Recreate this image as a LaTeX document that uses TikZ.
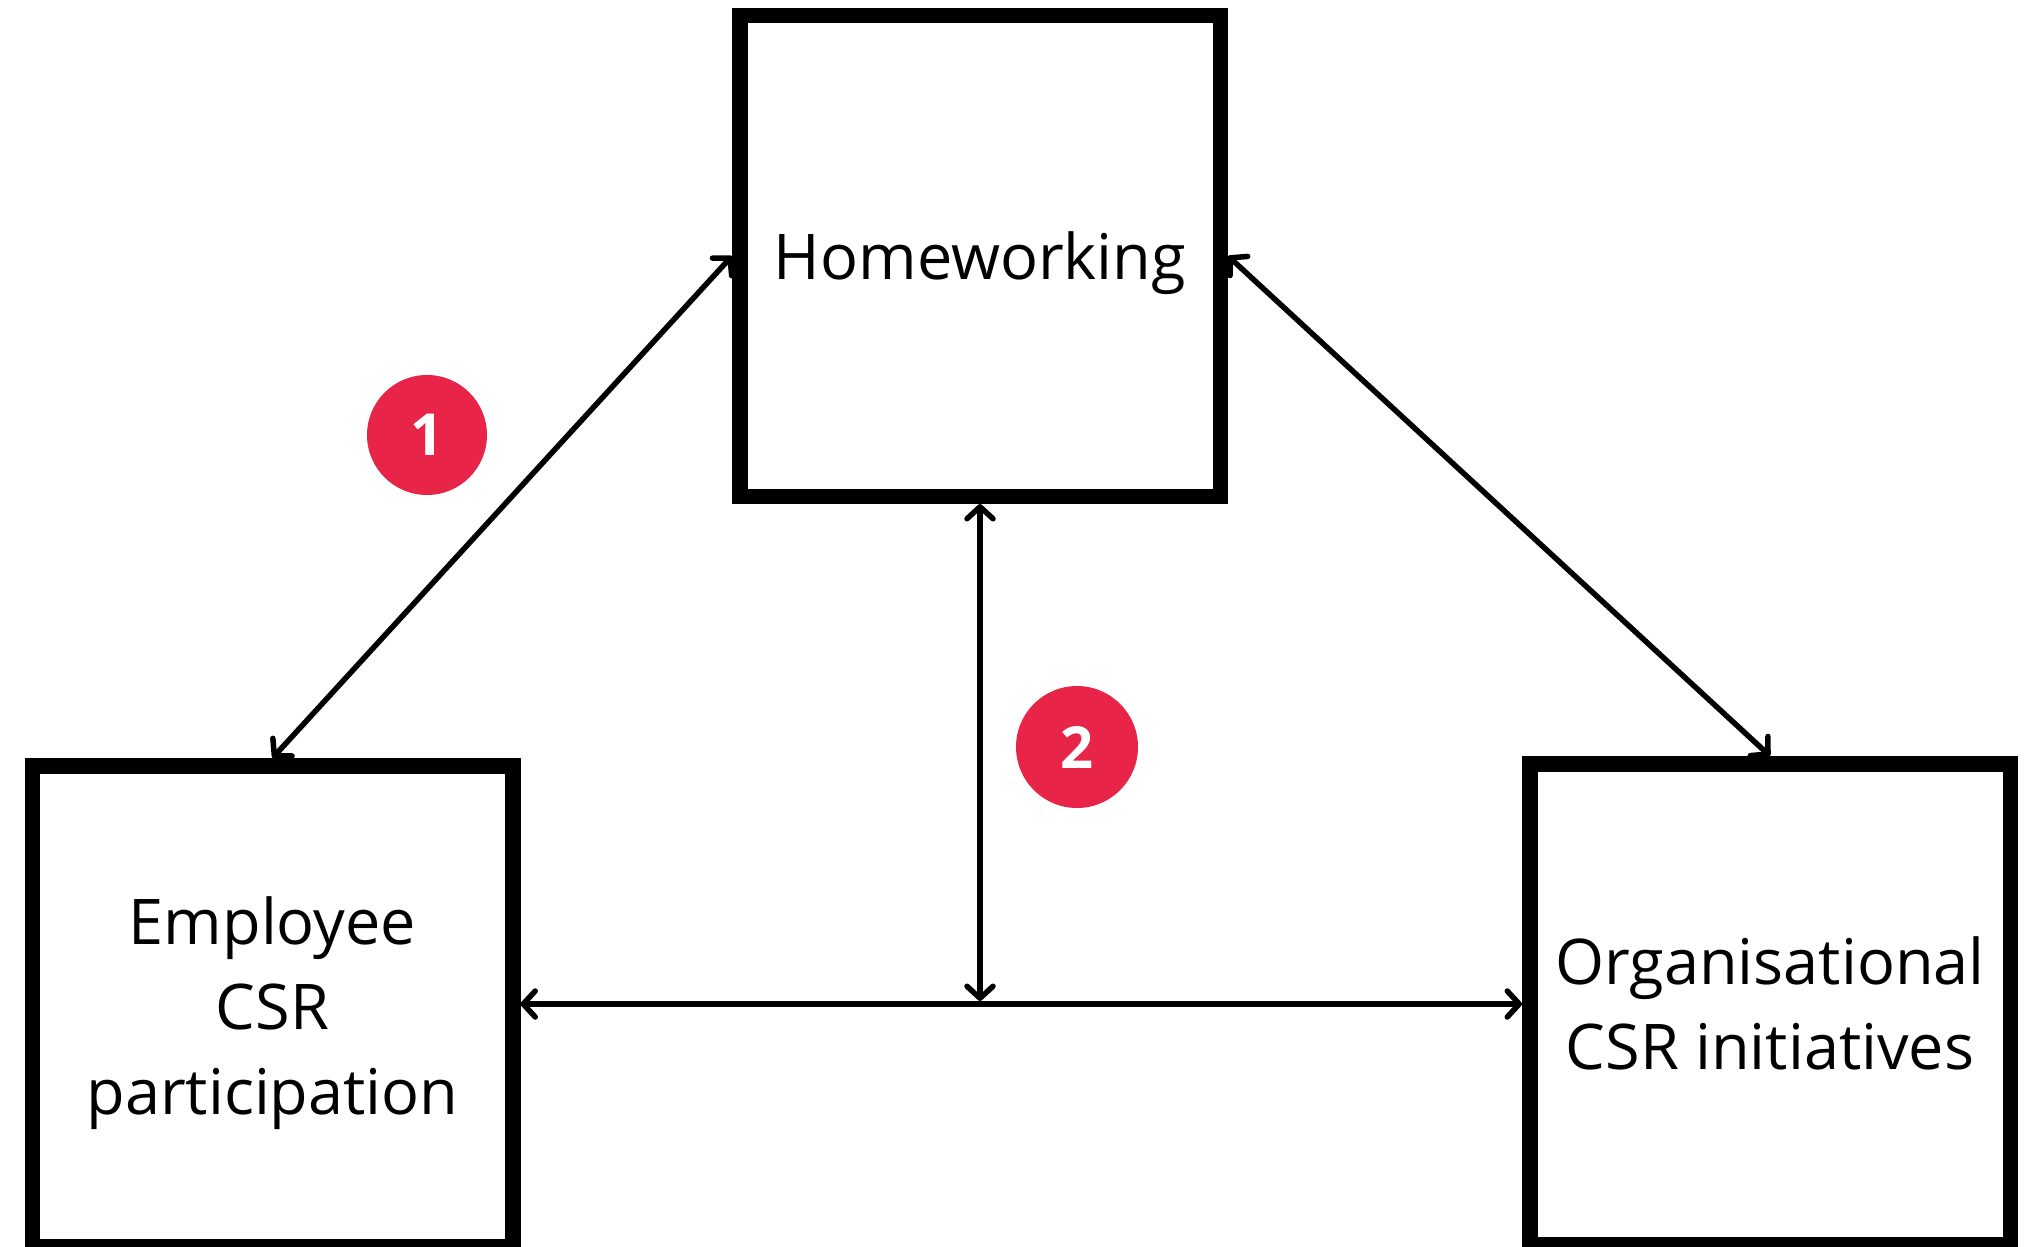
\documentclass[tikz,border=0pt]{standalone}
\usepackage{fontspec}
\setmainfont{Open Sans}
\usetikzlibrary{arrows.meta}
\definecolor{badgered}{RGB}{232,36,72}
\newcommand\boxtext[1]{\raisebox{-6pt}[\height][\depth]{\begin{tabular}{@{}c@{}}#1\end{tabular}}}
\begin{document}
\begin{tikzpicture}[x=1pt,y=-1pt,
  box/.style={draw=black, line width=15.5pt, minimum width=480.5pt, minimum height=480.5pt,
    inner sep=0pt, align=center, font=\fontsize{63}{85}\selectfont},
  link/.style={line width=5.5pt, {Straight Barb[round,length=12pt,width=26pt]}-{Straight Barb[round,length=12pt,width=26pt]}},
  badge/.style={circle, fill=badgered, minimum size=122pt, inner sep=0pt, text=white,
    font=\fontsize{58}{60}\selectfont\bfseries}]
\useasboundingbox (0,0) rectangle (2029,1247);
\node[box] (home) at (980,256) {\boxtext{Homeworking}};
\node[box] (emp) at (272.5,1006) {\boxtext{Employee\\CSR\\participation}};
\node[box] (org) at (1770,1004) {\boxtext{Organisational\\CSR initiatives}};
\node[badge, minimum size=120pt] (b1) at (427,435) {1};
\node[badge] (b2) at (1077,747) {2};
\draw[link] (emp.north) -- (home.west);
\draw[link] (home.east) -- (org.north);
\draw[link] (emp.east |- org.west) -- (org.west);
\coordinate (hmid) at (home.south |- org.west);
\draw[link, shorten >=3pt] (home.south) -- (hmid);
\end{tikzpicture}
\end{document}
